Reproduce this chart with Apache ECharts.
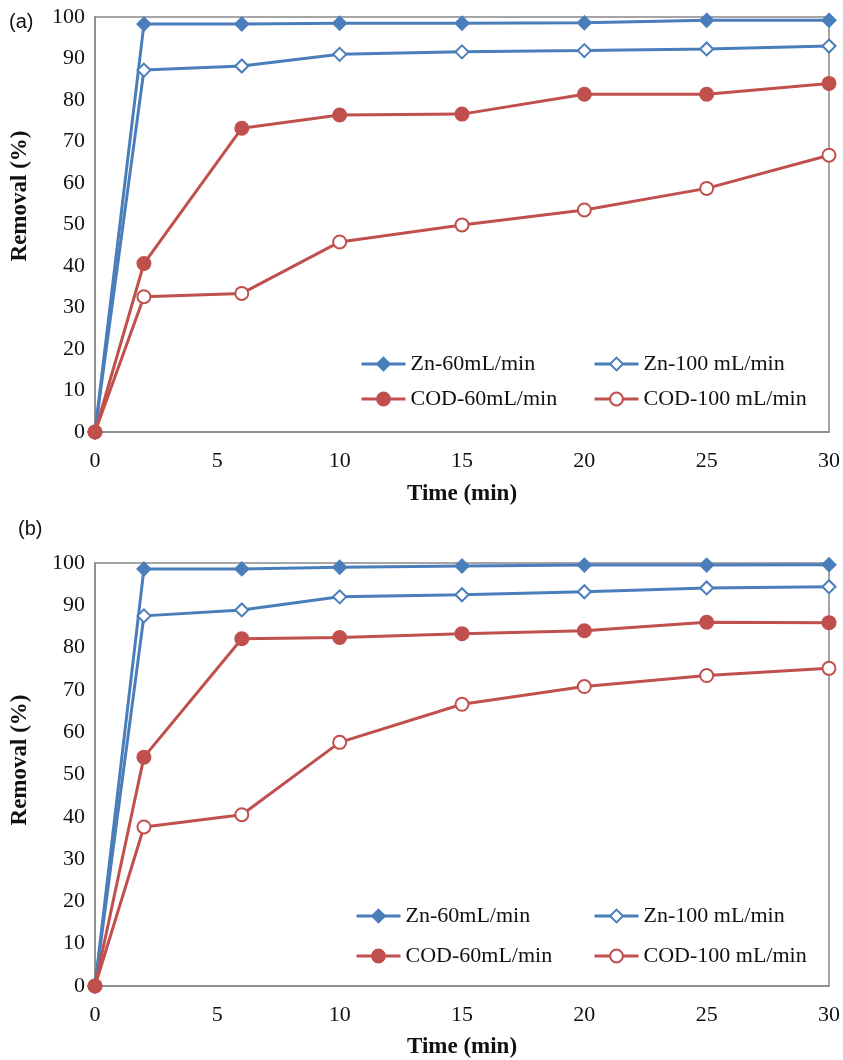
<!DOCTYPE html>
<html>
<head>
<meta charset="utf-8">
<script src="https://cdn.jsdelivr.net/npm/echarts@6/dist/echarts.min.js"></script>
<style>
  html, body { margin: 0; padding: 0; background: #fff; }
</style>
</head>
<body>
<div id="main" style="width:843px;height:1060px"></div>
<script>
  // time points (min)
  var times = [0, 2, 6, 10, 15, 20, 25, 30];

  // panel (a)
  var znA60 = [0, 98.3, 98.3, 98.5, 98.5, 98.6, 99.2, 99.2];
  var znA100 = [0, 87.2, 88.2, 91.0, 91.6, 91.9, 92.3, 93.0];
  var codA60 = [0, 40.6, 73.2, 76.4, 76.6, 81.4, 81.4, 84.0];
  var codA100 = [0, 32.6, 33.4, 45.8, 49.9, 53.5, 58.7, 66.7];

  // panel (b)
  var znB60 = [0, 98.6, 98.6, 99.0, 99.3, 99.5, 99.5, 99.6];
  var znB100 = [0, 87.5, 88.9, 92.0, 92.5, 93.2, 94.1, 94.4];
  var codB60 = [0, 54.1, 82.1, 82.4, 83.3, 84.0, 86.0, 85.9];
  var codB100 = [0, 37.6, 40.5, 57.6, 66.6, 70.8, 73.4, 75.1];

  var names = ["Zn-60mL/min", "Zn-100 mL/min", "COD-60mL/min", "COD-100 mL/min"];

  var blue = "#4a7ebb";
  var red = "#c0504d";
  var serif = "Liberation Serif";

  var myChart = echarts.init(document.getElementById("main"));

  function pairs(ys) {
    return times.map(function (t, i) { return [t, ys[i]]; });
  }

  function line(name, ys, idx, color, symbol, z) {
    return {
      name: name,
      type: "line",
      xAxisIndex: idx,
      yAxisIndex: idx,
      data: pairs(ys),
      symbol: symbol,
      symbolSize: 13,
      showSymbol: true,
      z: z,
      lineStyle: { color: color, width: 3 },
      itemStyle: { color: color, borderColor: color, borderWidth: 2 },
      animation: false,
    };
  }

  function xAx(idx, gap) {
    return {
      type: "value",
      gridIndex: idx,
      min: 0,
      max: 30,
      interval: 5,
      name: "Time (min)",
      nameLocation: "middle",
      nameGap: gap,
      nameTextStyle: { fontFamily: serif, fontWeight: "bold", fontSize: 23, color: "#111" },
      axisLine: { lineStyle: { color: "#888", width: 1.5 } },
      axisTick: { show: false },
      splitLine: { show: false },
      axisLabel: { fontFamily: serif, fontSize: 22, color: "#111", margin: 18 },
    };
  }

  function yAx(idx) {
    return {
      type: "value",
      gridIndex: idx,
      min: 0,
      max: 100,
      interval: 10,
      axisLine: { show: true, lineStyle: { color: "#888", width: 1.5 } },
      axisTick: { show: false },
      splitLine: { show: false },
      axisLabel: { fontFamily: serif, fontSize: 22, color: "#111", margin: 10 },
    };
  }

  // one legend per entry so the two columns line up like the original
  function legendAt(name, left, cy) {
    return {
      data: [name],
      left: left,
      top: cy - 12,
      padding: 0,
      itemWidth: 44,
      itemHeight: 16,
      itemGap: 0,
      selectedMode: false,
      lineStyle: { width: 3 },
      textStyle: { fontFamily: serif, fontSize: 22, color: "#111" },
    };
  }

  var option = {
    backgroundColor: "#fff",
    animation: false,
    title: [
      { text: "(a)", left: 4, top: 7, textStyle: { fontFamily: "Liberation Sans", fontWeight: "normal", fontSize: 20, color: "#111" } },
      { text: "(b)", left: 13, top: 514, textStyle: { fontFamily: "Liberation Sans", fontWeight: "normal", fontSize: 20, color: "#111" } },
    ],
    graphic: [
      { type: "text", x: 20, y: 196, rotation: Math.PI / 2,
        style: { text: "Removal (%)", fontFamily: serif, fontWeight: "bold", fontSize: 23, fill: "#111", textAlign: "center", textVerticalAlign: "middle" } },
      { type: "text", x: 20, y: 760, rotation: Math.PI / 2,
        style: { text: "Removal (%)", fontFamily: serif, fontWeight: "bold", fontSize: 23, fill: "#111", textAlign: "center", textVerticalAlign: "middle" } },
    ],
    grid: [
      { left: 95, top: 17, width: 735, height: 415, show: true, borderColor: "#888", borderWidth: 1.5, backgroundColor: "#fff" },
      { left: 95, top: 563, width: 735, height: 425, show: true, borderColor: "#888", borderWidth: 1.5, backgroundColor: "#fff" },
    ],
    xAxis: [xAx(0, 51), xAx(1, 50)],
    yAxis: [yAx(0), yAx(1)],
    legend: [
      legendAt(names[0], 360, 365),
      legendAt(names[1], 593, 365),
      legendAt(names[2], 360, 400),
      legendAt(names[3], 593, 400),
      legendAt(names[0], 355, 917),
      legendAt(names[1], 593, 917),
      legendAt(names[2], 355, 957),
      legendAt(names[3], 593, 957),
    ],
    series: [
      line(names[0], znA60, 0, blue, "diamond", 2),
      line(names[1], znA100, 0, blue, "emptyDiamond", 2),
      line(names[3], codA100, 0, red, "emptyCircle", 2),
      line(names[2], codA60, 0, red, "circle", 3),
      line(names[0], znB60, 1, blue, "diamond", 2),
      line(names[1], znB100, 1, blue, "emptyDiamond", 2),
      line(names[3], codB100, 1, red, "emptyCircle", 2),
      line(names[2], codB60, 1, red, "circle", 3),
    ],
  };

  myChart.setOption(option);
</script>
</body>
</html>
